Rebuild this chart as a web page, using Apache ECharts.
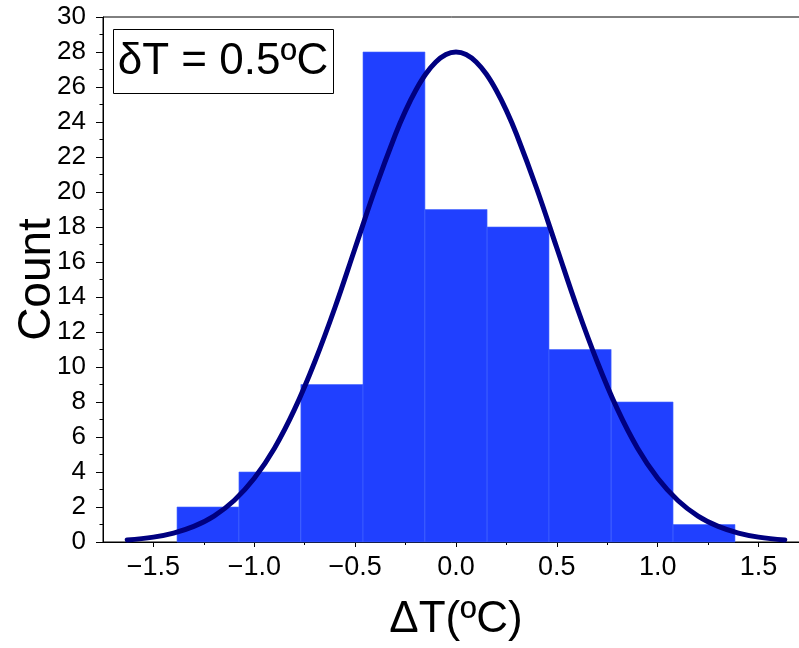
<!DOCTYPE html>
<html>
<head>
<meta charset="utf-8">
<script src="https://cdn.jsdelivr.net/npm/echarts@6/dist/echarts.min.js"></script>
<style>html,body{margin:0;padding:0;background:#fff}#c{width:799px;height:648px}</style>
</head>
<body>
<div id="c"></div>
<script>
// Histogram bins (edges in °C) and counts
const binEdges = [-1.383, -1.076, -0.769, -0.461, -0.154, 0.154, 0.461, 0.769, 1.076, 1.383];
const counts = [2, 4, 9, 28, 19, 18, 11, 8, 1];
// Fitted curve points
const curveX = [-1.63, -1.5, -1.4, -1.3, -1.2, -1.1, -1.0, -0.9, -0.8, -0.7, -0.6, -0.5, -0.4, -0.3, -0.25, -0.2, -0.15, -0.1, -0.05, 0.0,
                0.05, 0.1, 0.15, 0.2, 0.25, 0.3, 0.4, 0.5, 0.6, 0.7, 0.8, 0.9, 1.0, 1.1, 1.2, 1.3, 1.4, 1.5, 1.63];
const curveY = [0.12, 0.28, 0.51, 0.89, 1.48, 2.37, 3.64, 5.36, 7.59, 10.3, 13.4, 16.8, 20.2, 23.3, 24.65, 25.8, 26.74, 27.43, 27.86, 28.0,
                27.86, 27.43, 26.74, 25.8, 24.65, 23.3, 20.2, 16.8, 13.4, 10.3, 7.59, 5.36, 3.64, 2.37, 1.48, 0.89, 0.51, 0.28, 0.12];
const xMajorTicks = [-1.5, -1.0, -0.5, 0.0, 0.5, 1.0, 1.5];
const xMinorTicks = [-1.25, -0.75, -0.25, 0.25, 0.75, 1.25, 1.75];
const xAxisTitle = 'ΔT(ºC)';
const yAxisTitle = 'Count';
const boxLabel = 'δT = 0.5ºC';

const FONT = 'Liberation Sans, Arial, sans-serif';
const histData = counts.map((c, i) => [binEdges[i], binEdges[i + 1], c]);
const lineData = curveX.map((x, i) => [x, curveY[i]]);

const chart = echarts.init(document.getElementById('c'), null, {renderer: 'canvas'});
chart.setOption({
  animation: false,
  backgroundColor: '#fff',
  grid: {left: 103, right: -10, top: 17, bottom: 106, containLabel: false, outerBoundsMode: 'none',
         show: true, borderColor: '#000', borderWidth: 1},
  xAxis: [{
    type: 'value', min: -1.75, max: 1.75,
    splitLine: {show: false},
    axisLine: {show: true, onZero: false, lineStyle: {color: '#000', width: 1}},
    axisTick: {show: true, length: 5, customValues: xMajorTicks, lineStyle: {color: '#000'}},
    axisLabel: {customValues: xMajorTicks, color: '#000', fontSize: 27, fontFamily: FONT, margin: 12,
      formatter: v => (v < 0 ? '\u2212' : '') + Math.abs(v).toFixed(1)},
    name: xAxisTitle, nameLocation: 'middle', nameGap: 56, nameMoveOverlap: false,
    nameTextStyle: {color: '#000', fontSize: 44, fontFamily: FONT}
  }, {
    type: 'value', min: -1.75, max: 1.75, position: 'bottom',
    splitLine: {show: false},
    axisLine: {show: false, onZero: false},
    axisTick: {show: true, length: 3, customValues: xMinorTicks, lineStyle: {color: '#000'}},
    axisLabel: {show: false}
  }],
  yAxis: {
    type: 'value', min: 0, max: 30, interval: 2,
    splitLine: {show: false},
    axisLine: {show: true, onZero: false, lineStyle: {color: '#000', width: 1}},
    axisTick: {show: true, length: 7, lineStyle: {color: '#000'}},
    minorTick: {show: true, splitNumber: 2, length: 3.5, lineStyle: {color: '#000'}},
    axisLabel: {color: '#000', fontSize: 26, fontFamily: FONT, margin: 17},
    name: yAxisTitle, nameLocation: 'middle', nameGap: 43, nameRotate: 90, nameMoveOverlap: false,
    nameTextStyle: {color: '#000', fontSize: 46, fontFamily: FONT}
  },
  series: [{
    type: 'custom',
    data: histData,
    encode: {x: [0, 1], y: 2},
    renderItem: function (params, api) {
      const p0 = api.coord([api.value(0), api.value(2)]);
      const p1 = api.coord([api.value(1), 0]);
      return {type: 'rect', shape: {x: p0[0], y: p0[1], width: p1[0] - p0[0], height: p1[1] - p0[1]},
        style: {fill: '#2040ff', stroke: '#4466ff', lineWidth: 0.6}};
    },
    z: 2
  }, {
    type: 'line',
    data: lineData,
    smooth: 0.4,
    showSymbol: false,
    lineStyle: {color: '#000080', width: 5, cap: 'round', join: 'round'},
    z: 3
  }],
  graphic: [{
    type: 'rect', left: 113, top: 29, z: 10,
    shape: {width: 220, height: 64},
    style: {fill: '#fff', stroke: '#000', lineWidth: 1}
  }, {
    type: 'text', x: 223, y: 62, z: 11,
    style: {text: boxLabel, fill: '#000', font: '44px ' + FONT, align: 'center', verticalAlign: 'middle'}
  }]
});
</script>
</body>
</html>
